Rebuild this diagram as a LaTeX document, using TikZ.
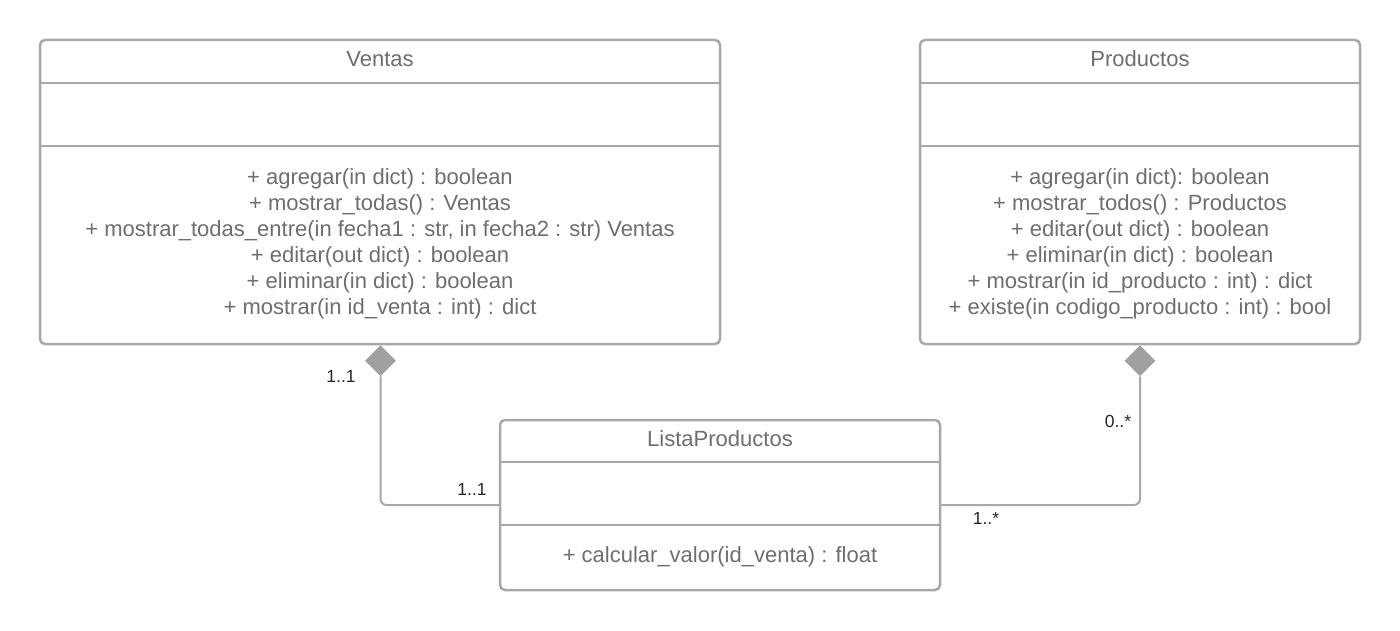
\documentclass[tikz,border=0pt]{standalone}
\usepackage{fontspec}
\setmainfont{Liberation Sans}
\usetikzlibrary{shapes.geometric}
\definecolor{ln}{HTML}{A8A8A8}
\definecolor{tx}{HTML}{6E6E6E}
\definecolor{dm}{HTML}{A0A0A0}
\begin{document}
\begin{tikzpicture}[x=1pt,y=-1pt,
  box/.style={draw=ln,line width=2.5pt,rounded corners=5pt,inner sep=0pt,fill=white},
  divl/.style={draw=ln,line width=2.5pt},
  txt/.style={text=tx,font=\fontsize{22}{26}\selectfont,align=center,inner sep=0pt},
  mult/.style={text=black!85,font=\fontsize{17.5}{20}\selectfont,inner sep=0pt},
  conn/.style={draw=ln,line width=2pt,rounded corners=6pt},
  agg/.style={diamond,fill=dm,inner sep=0pt,minimum width=31pt,minimum height=31pt}]
\fill[white] (0,0) rectangle (1400,631);
\useasboundingbox (0,0) rectangle (1400,631);
% Ventas
\node[box,minimum width=680pt,minimum height=304pt] (ventas) at (380,192) {};
\draw[divl] (ventas.west |- 0,83) -- (ventas.east |- 0,83);
\draw[divl] (ventas.west |- 0,146) -- (ventas.east |- 0,146);
\node[txt] (vtitle) at (380,59) {Ventas};
\node[txt] (vops) at (380,244) {+ agregar(in dict) : boolean\\+ mostrar\_todas() : Ventas\\+ mostrar\_todas\_entre(in fecha1 : str, in fecha2 : str) Ventas\\+ editar(out dict) : boolean\\+ eliminar(in dict) : boolean\\+ mostrar(in id\_venta : int) : dict};
% Productos
\node[box,minimum width=440pt,minimum height=304pt] (prod) at (1140,192) {};
\draw[divl] (prod.west |- 0,83) -- (prod.east |- 0,83);
\draw[divl] (prod.west |- 0,146) -- (prod.east |- 0,146);
\node[txt] (ptitle) at (1140,59) {Productos};
\node[txt] (pops) at (1140,244) {+ agregar(in dict): boolean\\+ mostrar\_todos() : Productos\\+ editar(out dict) : boolean\\+ eliminar(in dict) : boolean\\+ mostrar(in id\_producto : int) : dict\\+ existe(in codigo\_producto : int) : bool};
% ListaProductos
\node[box,minimum width=440pt,minimum height=170pt] (lista) at (720,505) {};
\draw[divl] (lista.west |- 0,462) -- (lista.east |- 0,462);
\draw[divl] (lista.west |- 0,525) -- (lista.east |- 0,525);
\node[txt] (ltitle) at (720,439) {ListaProductos};
\node[txt] (lops) at (720,557) {+ calcular\_valor(id\_venta) : float};
% aggregation diamonds
\node[agg,anchor=north] (vd) at (380.5,345) {};
\node[agg,anchor=north] (pd) at (1140,345) {};
\draw[conn] (vd.south) |- (lista.west);
\draw[conn] (pd.south) |- (lista.east);
% multiplicities
\node[mult] (m1) at (341,376) {1..1};
\node[mult] (m2) at (472,489) {1..1};
\node[mult] (m3) at (1118,421) {0..*};
\node[mult] (m4) at (986,518) {1..*};
\end{tikzpicture}
\end{document}
